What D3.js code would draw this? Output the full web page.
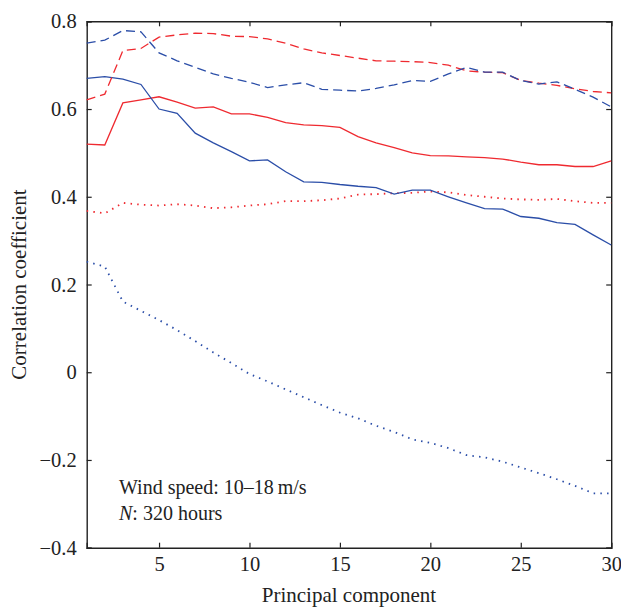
<!DOCTYPE html>
<html>
<head>
<meta charset="utf-8">
<script src="https://cdn.jsdelivr.net/npm/d3@7"></script>
<style>
  body { margin: 0; background: #fff; }
  text { font-family: "Liberation Serif", "DejaVu Serif", serif; fill: #222; }
</style>
</head>
<body>
<svg class="chart"></svg>
<script>
// principal component index
const components = d3.range(1, 31)

// series values
const redSolid = [0.520, 0.518, 0.614, 0.621, 0.628, 0.616, 0.602, 0.605, 0.589, 0.589,
  0.581, 0.569, 0.564, 0.562, 0.558, 0.537, 0.523, 0.512, 0.500, 0.494,
  0.493, 0.491, 0.489, 0.486, 0.479, 0.473, 0.473, 0.469, 0.469, 0.482]
const blueSolid = [0.670, 0.674, 0.668, 0.656, 0.600, 0.590, 0.545, 0.523, 0.503, 0.482,
  0.484, 0.457, 0.434, 0.433, 0.428, 0.424, 0.421, 0.406, 0.415, 0.415,
  0.400, 0.386, 0.373, 0.372, 0.355, 0.351, 0.341, 0.337, 0.313, 0.290]
const redDashed = [0.621, 0.634, 0.733, 0.738, 0.764, 0.769, 0.773, 0.772, 0.766, 0.765,
  0.760, 0.750, 0.737, 0.728, 0.722, 0.716, 0.710, 0.709, 0.708, 0.706,
  0.700, 0.687, 0.684, 0.683, 0.665, 0.659, 0.654, 0.646, 0.640, 0.637]
const blueDashed = [0.750, 0.757, 0.779, 0.776, 0.728, 0.710, 0.695, 0.680, 0.670, 0.661,
  0.649, 0.655, 0.660, 0.645, 0.643, 0.641, 0.647, 0.655, 0.665, 0.663,
  0.680, 0.695, 0.684, 0.684, 0.665, 0.657, 0.662, 0.645, 0.627, 0.605]
const redDotted = [0.368, 0.362, 0.386, 0.382, 0.380, 0.383, 0.380, 0.374, 0.376, 0.380,
  0.383, 0.390, 0.390, 0.392, 0.396, 0.405, 0.406, 0.408, 0.409, 0.412,
  0.410, 0.404, 0.400, 0.396, 0.394, 0.393, 0.395, 0.390, 0.386, 0.386]
const blueDotted = [0.252, 0.241, 0.161, 0.140, 0.119, 0.096, 0.071, 0.045, 0.021, -0.004,
  -0.021, -0.039, -0.057, -0.075, -0.092, -0.105, -0.122, -0.136, -0.153, -0.161,
  -0.173, -0.189, -0.194, -0.204, -0.217, -0.230, -0.244, -0.259, -0.276, -0.276]

// tick labels
const xTicks = [5, 10, 15, 20, 25, 30]
const yTicks = [-0.4, -0.2, 0, 0.2, 0.4, 0.6, 0.8]

const RED = '#ef2a30'
const BLUE = '#2b4ea8'

const series = [
  {values: redDotted, color: RED, dash: '1.5,5.2'},
  {values: blueDotted, color: BLUE, dash: '1.5,5.2'},
  {values: redSolid, color: RED, dash: null},
  {values: blueSolid, color: BLUE, dash: null},
  {values: redDashed, color: RED, dash: '9,5'},
  {values: blueDashed, color: BLUE, dash: '9,5'}
]

const svg = d3.select('.chart')
  .attr('width', 621)
  .attr('height', 609)

const margin = {top: 21.3, right: 9.8, bottom: 61.3, left: 86.7}
const innerWidth = 621 - margin.left - margin.right
const innerHeight = 609 - margin.top - margin.bottom

const g = svg.append('g')
  .attr('transform', `translate(${margin.left}, ${margin.top})`)

//scale
const xScale = d3.scaleLinear().domain([1, 30]).range([0, innerWidth])
const yScale = d3.scaleLinear().domain([-0.4, 0.8]).range([innerHeight, 0])

const fmt = d => d === 0 ? '0' : d3.format('.1f')(d).replace('-', '\u2212')

//axes (ticks pointing inward)
const xAxisG = g.append('g')
  .attr('transform', `translate(0, ${innerHeight})`)
  .call(d3.axisBottom(xScale).tickValues(xTicks).tickSize(-5).tickPadding(9).tickFormat(d3.format('d')))
const xTopG = g.append('g')
  .call(d3.axisTop(xScale).tickValues(xTicks).tickSize(-5).tickFormat(''))
const yAxisG = g.append('g')
  .call(d3.axisLeft(yScale).tickValues(yTicks).tickSize(-5).tickPadding(10).tickFormat(fmt))
const yRightG = g.append('g')
  .attr('transform', `translate(${innerWidth}, 0)`)
  .call(d3.axisRight(yScale).tickValues(yTicks).tickSize(-5).tickFormat(''))

g.selectAll('.domain').attr('stroke', '#222').attr('stroke-width', 1.4)
g.selectAll('.tick line').attr('stroke', '#222').attr('stroke-width', 1.2)
g.selectAll('.tick text').attr('font-size', 20.5).attr('fill', '#222')
  .attr('font-family', '"Liberation Serif", "DejaVu Serif", serif')

//lines
const line = vals => d3.line()
  .x((d, i) => xScale(components[i]))
  .y(d => yScale(d))(vals)

g.selectAll('path.series')
  .data(series)
  .enter()
  .append('path')
  .attr('class', 'series')
  .attr('d', d => line(d.values))
  .attr('fill', 'none')
  .attr('stroke', d => d.color)
  .attr('stroke-width', d => d.dash && d.dash.startsWith('1.5') ? 1.8 : 1.3)
  .attr('stroke-dasharray', d => d.dash)

//labels
svg.append('text')
  .attr('x', margin.left + innerWidth / 2)
  .attr('y', 602)
  .attr('text-anchor', 'middle')
  .attr('font-size', 21)
  .text('Principal component')

svg.append('text')
  .attr('transform', `translate(26, ${margin.top + innerHeight / 2}) rotate(-90)`)
  .attr('text-anchor', 'middle')
  .attr('font-size', 21)
  .text('Correlation coefficient')

const note = svg.append('text')
  .attr('x', 119)
  .attr('font-size', 20)
note.append('tspan').attr('x', 119).attr('y', 494).text('Wind speed: 10\u201318\u2009m/s')
const n2 = note.append('tspan').attr('x', 119).attr('y', 520)
n2.append('tspan').attr('font-style', 'italic').text('N')
n2.append('tspan').text(': 320 hours')
</script>
</body>
</html>
